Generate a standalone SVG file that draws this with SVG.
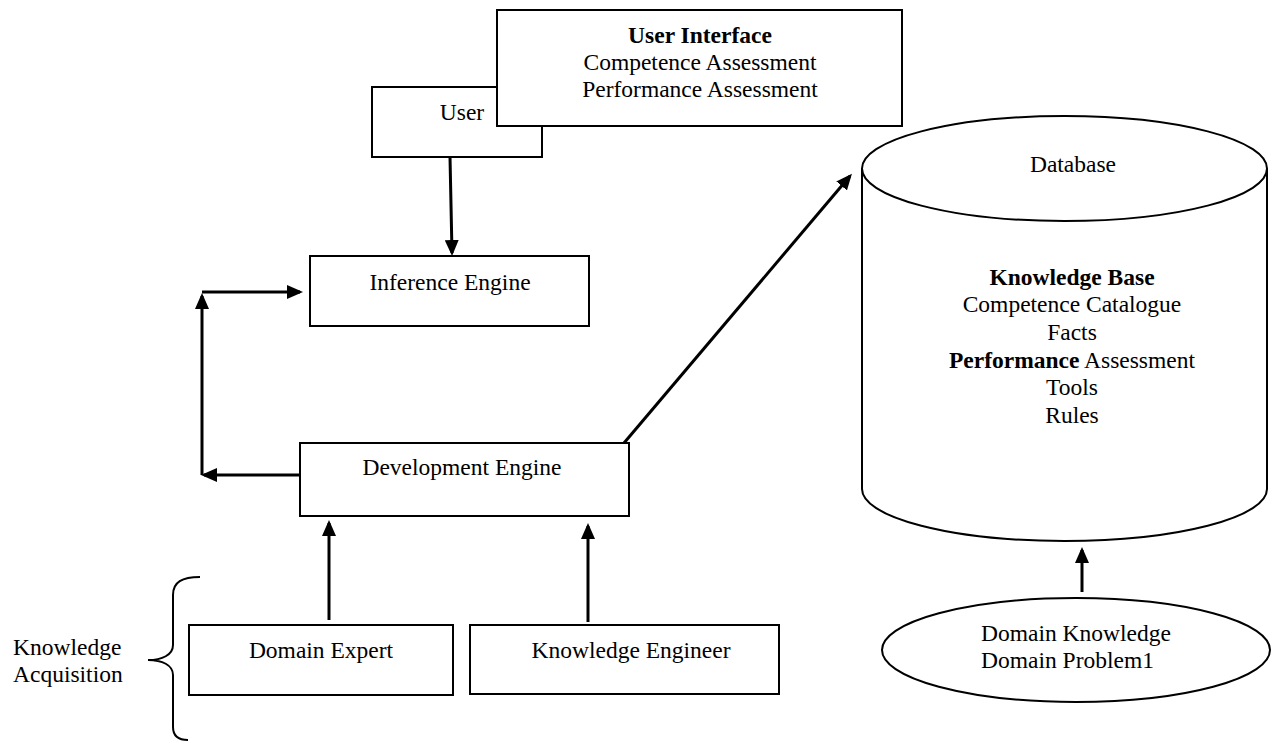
<svg xmlns="http://www.w3.org/2000/svg" width="1271" height="742" viewBox="0 0 1271 742">
<defs>
<style>
.box{fill:#fff;stroke:#000;stroke-width:2}
.t{font-family:"Liberation Serif","Times New Roman",serif;font-size:23.5px;fill:#000}
.c{text-anchor:middle}
.b{font-weight:bold}
.conn{fill:none;stroke:#000;stroke-width:3}
</style>
<marker id="ah" viewBox="0 0 16 14" refX="13" refY="7" markerWidth="16" markerHeight="14" orient="auto" markerUnits="userSpaceOnUse">
<path d="M0,0 L16,7 L0,14 z" fill="#000"/>
</marker>
</defs>
<rect x="0" y="0" width="1271" height="742" fill="#fff"/>

<g id="user">
<rect class="box" x="372" y="87" width="170" height="70"/>
<text class="t c" x="462" y="120">User</text>
</g>

<g id="user-interface">
<rect class="box" x="497" y="10" width="405" height="116"/>
<text class="t c" x="700" y="43"><tspan class="b">User Interface</tspan></text>
<text class="t c" x="700" y="70">Competence Assessment</text>
<text class="t c" x="700" y="97">Performance Assessment</text>
</g>

<g id="inference-engine">
<rect class="box" x="310" y="256" width="279" height="70"/>
<text class="t c" x="450" y="290">Inference Engine</text>
</g>

<g id="development-engine">
<rect class="box" x="300" y="443" width="329" height="73"/>
<text class="t c" x="462" y="475">Development Engine</text>
</g>

<g id="domain-expert">
<rect class="box" x="189" y="625" width="264" height="70"/>
<text class="t c" x="321" y="658">Domain Expert</text>
</g>

<g id="knowledge-engineer">
<rect class="box" x="470" y="625" width="309" height="69"/>
<text class="t c" x="631" y="658">Knowledge Engineer</text>
</g>

<g id="database">
<path class="box" d="M862,168.5 L862,489 A202.5,52 0 0 0 1267,489 L1267,168.5"/>
<ellipse class="box" cx="1064.5" cy="168.5" rx="202.5" ry="52.5"/>
<text class="t c" x="1073" y="172">Database</text>
<text class="t c" x="1072" y="285"><tspan class="b">Knowledge Base</tspan></text>
<text class="t c" x="1072" y="312">Competence Catalogue</text>
<text class="t c" x="1072" y="340">Facts</text>
<text class="t c" x="1072" y="368"><tspan class="b">Performance</tspan> Assessment</text>
<text class="t c" x="1072" y="395">Tools</text>
<text class="t c" x="1072" y="423">Rules</text>
</g>

<g id="domain-knowledge">
<ellipse class="box" cx="1076" cy="650" rx="194" ry="52"/>
<text class="t" x="981" y="641">Domain Knowledge</text>
<text class="t" x="981" y="668">Domain Problem1</text>
</g>

<g id="knowledge-acquisition">
<path d="M200,577 C182,577 173,582 173,595 L173,645 C173,655 162,660 148,660 C162,660 173,665 173,675 L173,727 C173,737 180,740 188,740" fill="none" stroke="#000" stroke-width="2"/>
<text class="t" x="13" y="655">Knowledge</text>
<text class="t" x="13" y="682">Acquisition</text>
</g>

<g id="connectors">
<path class="conn" d="M450,157 L452,253" marker-end="url(#ah)"/>
<path class="conn" d="M300,475 L204,475" marker-end="url(#ah)"/>
<path class="conn" d="M202,475 L202,296" marker-end="url(#ah)"/>
<path class="conn" d="M202,292 L300,292" marker-end="url(#ah)"/>
<path class="conn" d="M624,443 L850,176" marker-end="url(#ah)"/>
<path class="conn" d="M329,620 L329,523" marker-end="url(#ah)"/>
<path class="conn" d="M588,622 L588,526" marker-end="url(#ah)"/>
<path class="conn" d="M1082,592 L1082,550" marker-end="url(#ah)"/>
</g>
</svg>
